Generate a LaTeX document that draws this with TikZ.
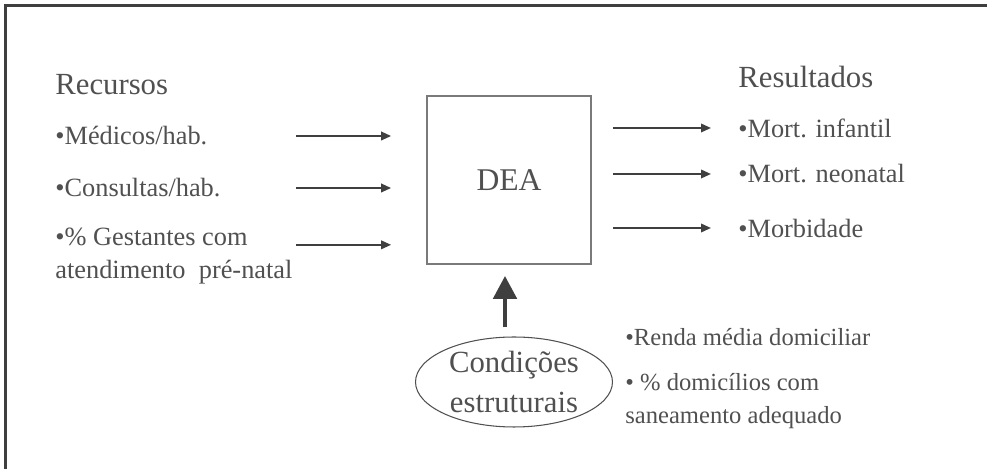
\documentclass[tikz,border=0pt]{standalone}
\usepackage{fontspec}
\setmainfont{Liberation Serif}
\usetikzlibrary{shapes.geometric,arrows.meta,calc}
\definecolor{txtgray}{HTML}{505050}
\definecolor{linegray}{HTML}{3F3F3F}
\definecolor{boxgray}{HTML}{7A7A7A}

\begin{document}
\begin{tikzpicture}[x=0.02cm,y=0.02cm]
	\tikzstyle{every node}=[inner sep=0pt,text=txtgray]
	\tikzstyle{head}=[anchor=west,font=\fontsize{17.5}{21}\selectfont]
	\tikzstyle{item}=[anchor=west,align=left,font=\fontsize{15}{18.5}\selectfont]
	\tikzstyle{side}=[anchor=west,align=left,font=\fontsize{14}{18.8}\selectfont]
	\tikzstyle{arr}=[draw=linegray,line width=1.1pt,-{Triangle[length=0.2cm,width=0.17cm]}]
	\tikzstyle{bigarr}=[draw=linegray,line width=2.8pt,-{Triangle[length=0.46cm,width=0.46cm]}]
	\useasboundingbox (0,0) rectangle (987,469);
	\draw[linegray,line width=1.7pt] (5.5,0) -- (5.5,463.5) -- (987,463.5);
	\node[head] (rec) at (55,384) {Recursos};
	\node[item] (med) at (55,333) {•Médicos/hab.};
	\node[item] (cons) at (55,281) {•Consultas/hab.};
	\node[item] (gest) at (55,213) {•\% Gestantes com\\atendimento\ \ pré-natal};
	\node[draw=boxgray,line width=1pt,minimum width=3.28cm,minimum height=3.36cm,
		font=\fontsize{18}{21}\selectfont] (dea) at (509,289) {DEA};
	\node[head] (res) at (738,392) {Resultados};
	\node[item] (inf) at (738,341) {•Mort. infantil};
	\node[item] (neo) at (738,295) {•Mort. neonatal};
	\node[item] (morb) at (738,241) {•Morbidade};
	\node[ellipse,draw=txtgray,line width=0.6pt,minimum width=3.94cm,minimum height=1.8cm,
		align=center,font=\fontsize{17.5}{22.8}\selectfont] (cond) at (514,87) {Condições\\estruturais};
	\node[side] (renda) at (625,132) {•Renda média domiciliar};
	\node[side] (san) at (625,68) {• \% domicílios com\\saneamento adequado};
	\foreach \n in {med,cons}
		\draw[arr] ($(dea.west |- \n)+(-130,0)$) -- ($(dea.west |- \n)+(-35,0)$);
	\draw[arr] ($(dea.west |- gest.north)+(-130,-17)$) -- ($(dea.west |- gest.north)+(-35,-17)$);
	\foreach \n in {inf,neo,morb}
		\draw[arr] ($(dea.east |- \n)+(21,0)$) -- ($(\n.west)+(-27,0)$);
	\draw[bigarr] ($(cond.north)+(-9,9)$) -- ($(dea.south)+(-4,-11)$);
\end{tikzpicture}
\end{document}
